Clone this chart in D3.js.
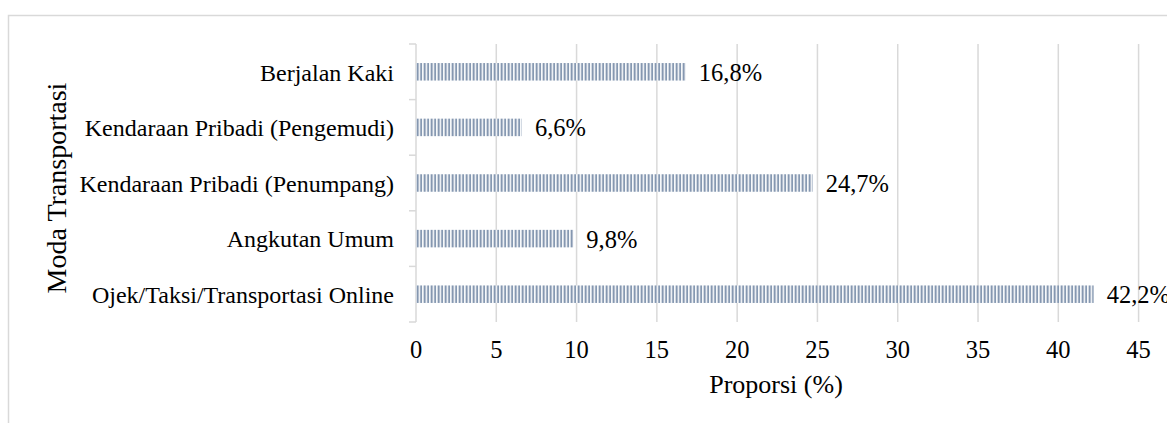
<!DOCTYPE html>
<html>
<head>
<meta charset="utf-8">
<script src="https://cdn.jsdelivr.net/npm/d3@7"></script>
<style>
  html, body { margin: 0; padding: 0; background: #fff; overflow: hidden; }
  svg { display: block; }
  text { font-family: "Liberation Serif", "Times New Roman", serif; fill: #000; }
</style>
</head>
<body>
<svg id="chart" width="1167" height="423"></svg>
<script>
// Moda transportasi dan proporsinya (%)
const categories = [
  "Berjalan Kaki",
  "Kendaraan Pribadi (Pengemudi)",
  "Kendaraan Pribadi (Penumpang)",
  "Angkutan Umum",
  "Ojek/Taksi/Transportasi Online"
];
const values = [16.8, 6.6, 24.7, 9.8, 42.2];
const valueLabels = ["16,8%", "6,6%", "24,7%", "9,8%", "42,2%"];
const xTicks = [0, 5, 10, 15, 20, 25, 30, 35, 40, 45];
const xTitle = "Proporsi (%)";
const yTitle = "Moda Transportasi";

const svg = d3.select("#chart");
const W = 1167, H = 423;
const plot = { left: 416, right: 1138.6, top: 44, bottom: 322 };

// Outer chart frame
svg.append("rect")
  .attr("x", 8.5).attr("y", 15.5)
  .attr("width", W + 20).attr("height", H + 20)
  .attr("fill", "#fff").attr("stroke", "#d9d9d9").attr("stroke-width", 1.5);

// Vertical hatch fill for the bars
const defs = svg.append("defs");
const pat = defs.append("pattern")
  .attr("id", "hatch").attr("patternUnits", "userSpaceOnUse")
  .attr("x", plot.left).attr("y", 0)
  .attr("width", 3.5).attr("height", 10);
pat.append("rect").attr("x", 0).attr("y", 0).attr("width", 3.5).attr("height", 10).attr("fill", "#fff");
pat.append("rect").attr("x", 0.6).attr("y", 0).attr("width", 2).attr("height", 10).attr("fill", "#8497b0");

const x = d3.scaleLinear().domain([0, 45]).range([plot.left, plot.right]);
const y = d3.scaleBand().domain(categories).range([plot.top, plot.bottom]);
const band = y.bandwidth();
const barH = 17.5;

// Vertical gridlines
svg.append("g")
  .selectAll("line").data(xTicks.filter(d => d > 0)).join("line")
  .attr("x1", d => x(d)).attr("x2", d => x(d))
  .attr("y1", plot.top).attr("y2", plot.bottom)
  .attr("stroke", "#d9d9d9").attr("stroke-width", 1.5);

// Category axis with tick marks between bands
const yAxis = svg.append("g");
yAxis.append("line")
  .attr("x1", plot.left).attr("x2", plot.left)
  .attr("y1", plot.top).attr("y2", plot.bottom)
  .attr("stroke", "#d9d9d9").attr("stroke-width", 1.5);
const bounds = categories.map(c => y(c)).concat([plot.bottom]);
yAxis.selectAll("line.tk").data(bounds).join("line")
  .attr("class", "tk")
  .attr("x1", plot.left - 7).attr("x2", plot.left)
  .attr("y1", d => d).attr("y2", d => d)
  .attr("stroke", "#d9d9d9").attr("stroke-width", 1.5);

// Category labels
svg.append("g").selectAll("text").data(categories).join("text")
  .attr("x", 394)
  .attr("y", d => y(d) + band / 2)
  .attr("dy", "0.37em")
  .attr("text-anchor", "end")
  .attr("font-size", 24)
  .text(d => d);

// Bars
svg.append("g").selectAll("rect").data(values).join("rect")
  .attr("x", x(0))
  .attr("y", (d, i) => y(categories[i]) + band / 2 - barH / 2)
  .attr("width", d => x(d) - x(0))
  .attr("height", barH)
  .attr("fill", "url(#hatch)");

// Value labels
svg.append("g").selectAll("text").data(values).join("text")
  .attr("x", d => x(d) + 13)
  .attr("y", (d, i) => y(categories[i]) + band / 2)
  .attr("dy", "0.37em")
  .attr("font-size", 24.5)
  .text((d, i) => valueLabels[i]);

// X tick labels
svg.append("g").selectAll("text").data(xTicks).join("text")
  .attr("x", d => x(d))
  .attr("y", 358)
  .attr("text-anchor", "middle")
  .attr("font-size", 24.5)
  .text(d => d);

// Axis titles
svg.append("text")
  .attr("x", 776).attr("y", 393)
  .attr("text-anchor", "middle")
  .attr("font-size", 26)
  .text(xTitle);

svg.append("text")
  .attr("transform", "translate(66,188) rotate(-90)")
  .attr("text-anchor", "middle")
  .attr("font-size", 28)
  .text(yTitle);
</script>
</body>
</html>
